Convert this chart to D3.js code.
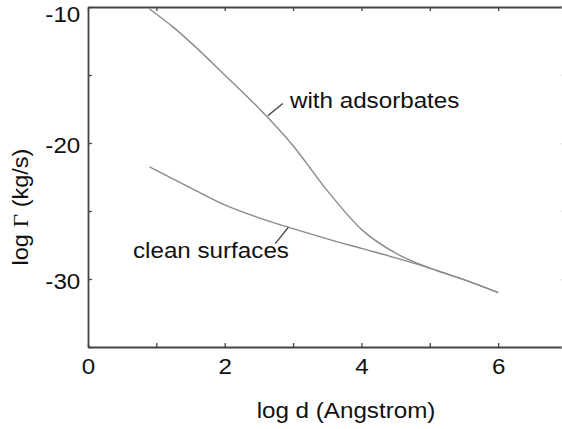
<!DOCTYPE html>
<html>
<head>
<meta charset="utf-8">
<script src="https://cdn.jsdelivr.net/npm/d3@7"></script>
<style>
  html, body { margin: 0; padding: 0; background: #fff; }
  svg { display: block; }
  text { font-family: "Liberation Sans", Arial, Helvetica, sans-serif; fill: #111; }
</style>
</head>
<body>
<svg id="chart" width="562" height="429"></svg>
<script>
// ---- data ----
const xTicks = [0, 1, 2, 3, 4, 5, 6, 7];
const xTickLabels = ["0", "", "2", "", "4", "", "6", ""];
const yTicks = [-35, -30, -25, -20, -15, -10];
const yTickLabels = ["", "-30", "", "-20", "", "-10"];

const cleanX = [0.9, 1.5, 2.0, 2.5, 3.0, 3.5, 4.0, 4.5, 5.0, 5.5, 6.0];
const cleanY = [-21.76, -23.3, -24.55, -25.5, -26.3, -27.05, -27.75, -28.45, -29.2, -30.05, -31.0];

const adsX = [0.9, 1.25, 1.5, 2.0, 2.5, 3.0, 3.5, 4.0, 4.5, 5.0, 5.5, 6.0];
const adsY = [-10.15, -11.5, -12.6, -15.0, -17.45, -20.2, -23.5, -26.35, -28.1, -29.2, -30.05, -31.0];

const labels = ["with adsorbates", "clean surfaces"];
const xTitle = "log d (Angstrom)";

// ---- layout ----
const svg = d3.select("#chart");
const x = d3.scaleLinear().domain([0, 7]).range([88, 566.5]);
const y = d3.scaleLinear().domain([-35, -10]).range([347, 7]);

const axisColor = "#444";
const curveColor = "#8a8a8a";
const FS = 22, SX = 1.1;

// curves
const line = d3.line().x(d => x(d[0])).y(d => y(d[1])).curve(d3.curveMonotoneX);
const series = [d3.zip(adsX, adsY), d3.zip(cleanX, cleanY)];
svg.selectAll("path.curve").data(series).join("path")
  .attr("class", "curve")
  .attr("d", line)
  .attr("fill", "none")
  .attr("stroke", curveColor)
  .attr("stroke-width", 1.4);

// axes
function styleAxis(g) {
  g.select(".domain").attr("stroke", axisColor).attr("stroke-width", 1.8);
  g.selectAll(".tick line").attr("stroke", axisColor).attr("stroke-width", 1.3);
  g.selectAll(".tick text").attr("font-size", FS).attr("fill", "#111")
    .attr("font-family", '"Liberation Sans", Arial, Helvetica, sans-serif');
}

const xAxisG = svg.append("g").attr("transform", `translate(0,${y(-35)})`)
  .call(d3.axisBottom(x).tickValues(xTicks).tickSizeInner(-4).tickSizeOuter(0).tickPadding(11)
    .tickFormat((d, i) => xTickLabels[i]))
  .call(styleAxis);
xAxisG.selectAll(".tick text").attr("transform", `scale(${SX},1)`);

svg.append("g").attr("transform", `translate(0,${y(-10)})`)
  .call(d3.axisTop(x).tickValues(xTicks).tickSizeInner(-4).tickSizeOuter(0).tickFormat(""))
  .call(styleAxis);

const yAxisG = svg.append("g").attr("transform", `translate(${x(0)},0)`)
  .call(d3.axisLeft(y).tickValues(yTicks).tickSizeInner(-4).tickSizeOuter(0).tickPadding(7)
    .tickFormat((d, i) => yTickLabels[i]))
  .call(styleAxis);
yAxisG.selectAll(".tick text").attr("dy", "0.45em").attr("transform", `scale(${SX},1)`);
yAxisG.selectAll(".tick text").filter(d => d === -10).attr("dy", "0.66em");

svg.append("g").attr("transform", `translate(${x(7)},0)`)
  .call(d3.axisRight(y).tickValues(yTicks).tickSizeInner(-5).tickSizeOuter(0).tickFormat(""))
  .call(styleAxis)
  .selectAll(".tick line").attr("stroke", "#bbb");

// annotations
const ann = [
  { text: labels[0], from: [2.63, -18.0], to: [2.85, -17.1], tx: 290, ty: 108 },
  { text: labels[1], from: [2.93, -26.2], to: [2.74, -27.4], tx: 133, ty: 258 }
];
ann.forEach(a => {
  svg.append("line")
    .attr("x1", x(a.from[0])).attr("y1", y(a.from[1]))
    .attr("x2", x(a.to[0])).attr("y2", y(a.to[1]))
    .attr("stroke", "#444").attr("stroke-width", 1.4);
  svg.append("text").attr("transform", `translate(${a.tx},${a.ty}) scale(${SX},1)`)
    .attr("font-size", FS).text(a.text);
});

// axis titles
svg.append("text").attr("transform", `translate(346,418) scale(${SX},1)`)
  .attr("text-anchor", "middle").attr("font-size", FS).text(xTitle);

const yt = svg.append("text")
  .attr("transform", `translate(28,207) rotate(-90) scale(1.07,1)`)
  .attr("text-anchor", "middle").attr("font-size", FS);
yt.append("tspan").text("log ");
yt.append("tspan").attr("font-family", '"Liberation Serif", "Times New Roman", serif').text("Γ");
yt.append("tspan").text(" (kg/s)");
</script>
</body>
</html>
